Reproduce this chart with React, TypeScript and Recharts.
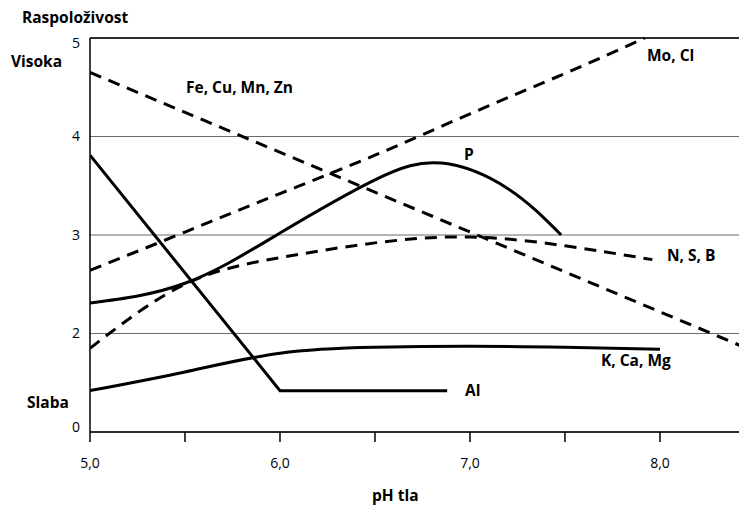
import { LineChart, Line, XAxis, YAxis, CartesianGrid, ReferenceLine } from 'recharts'

// pH values and availability (bottom of the plot = 1, shown as "0")
const feCuMnZn = [
  { ph: 5.0, v: 4.65 },
  { ph: 8.42, v: 1.88 },
]

const moCl = [
  { ph: 5.0, v: 2.64 },
  { ph: 5.5, v: 3.03 },
  { ph: 6.0, v: 3.42 },
  { ph: 6.5, v: 3.81 },
  { ph: 7.0, v: 4.23 },
  { ph: 7.5, v: 4.64 },
  { ph: 7.92, v: 5.0 },
]

const phosphorus = [
  { ph: 5.0, v: 2.31 },
  { ph: 5.5, v: 2.51 },
  { ph: 6.0, v: 3.02 },
  { ph: 6.5, v: 3.56 },
  { ph: 6.85, v: 3.73 },
  { ph: 7.2, v: 3.47 },
  { ph: 7.48, v: 3.0 },
]

const nsb = [
  { ph: 5.0, v: 1.85 },
  { ph: 5.5, v: 2.5 },
  { ph: 6.0, v: 2.77 },
  { ph: 6.5, v: 2.92 },
  { ph: 7.0, v: 2.98 },
  { ph: 7.5, v: 2.89 },
  { ph: 7.96, v: 2.75 },
]

const kCaMg = [
  { ph: 5.0, v: 1.42 },
  { ph: 5.5, v: 1.61 },
  { ph: 6.0, v: 1.8 },
  { ph: 6.5, v: 1.86 },
  { ph: 7.0, v: 1.87 },
  { ph: 7.5, v: 1.86 },
  { ph: 8.0, v: 1.84 },
]

const aluminium = [
  { ph: 5.0, v: 3.81 },
  { ph: 6.0, v: 1.42 },
  { ph: 6.88, v: 1.42 },
]

const xTicks = [5, 5.5, 6, 6.5, 7, 7.5, 8]
const yTicks = [1, 2, 3, 4, 5]
const yTickLabels: Record<number, string> = { 1: '0', 2: '2', 3: '3', 4: '4', 5: '5' }

const FONT = "'Open Sans', 'Noto Sans', sans-serif"

const YTick = (props: any) => {
  const { x, y, payload } = props
  const nudge = payload.value === 5 ? 5 : payload.value === 1 ? -5 : 0
  return (
    <text x={x} y={y + nudge} dy="0.35em" textAnchor="end" fontSize={14} fill="#000" fontFamily={FONT}>
      {yTickLabels[payload.value]}
    </text>
  )
}

const labels = [
  { text: 'Raspoloživost', x: 22, y: 23 },
  { text: 'Visoka', x: 11, y: 67 },
  { text: 'Slaba', x: 27, y: 408 },
  { text: 'pH tla', x: 372, y: 501 },
  { text: 'Fe, Cu, Mn, Zn', x: 186, y: 93 },
  { text: 'Mo, Cl', x: 647, y: 61 },
  { text: 'P', x: 464, y: 160 },
  { text: 'N, S, B', x: 667, y: 261 },
  { text: 'K, Ca, Mg', x: 601, y: 366 },
  { text: 'Al', x: 465, y: 396 },
]

const dashed = { stroke: '#000', strokeWidth: 3, strokeDasharray: '12 8', dot: false, isAnimationActive: false }
const solid = { stroke: '#000', strokeWidth: 3, dot: false, isAnimationActive: false }

export default function App() {
  return (
    <div style={{ position: 'absolute', left: 0, top: 0, width: 739, height: 509, background: '#fff' }}>
      <LineChart width={739} height={509} margin={{ top: 38, right: 0, bottom: 0, left: 0 }}>
        <CartesianGrid vertical={false} stroke="#6b6b6b" strokeWidth={1} />
        <XAxis
          type="number"
          dataKey="ph"
          domain={[5, 8.416]}
          allowDataOverflow
          ticks={xTicks}
          tickFormatter={(v: number) => (Number.isInteger(v) ? v.toFixed(1).replace('.', ',') : '')}
          tickSize={10}
          tickMargin={16}
          height={77}
          axisLine={{ stroke: '#000', strokeWidth: 1.5 }}
          tickLine={{ stroke: '#000', strokeWidth: 1.5 }}
          tick={{ fontSize: 14, fill: '#000', fontFamily: FONT }}
        />
        <YAxis
          type="number"
          domain={[1, 5]}
          ticks={yTicks}
          width={90}
          tickSize={0}
          tickMargin={10}
          tickLine={false}
          axisLine={{ stroke: '#000', strokeWidth: 1.5 }}
          tick={<YTick />}
        />
        <ReferenceLine y={5} stroke="#000" strokeWidth={1.5} />
        <Line data={feCuMnZn} dataKey="v" type="linear" {...dashed} />
        <Line data={moCl} dataKey="v" type="natural" {...dashed} />
        <Line data={nsb} dataKey="v" type="natural" {...dashed} />
        <Line data={phosphorus} dataKey="v" type="natural" {...solid} />
        <Line data={kCaMg} dataKey="v" type="natural" {...solid} />
        <Line data={aluminium} dataKey="v" type="linear" {...solid} />
      </LineChart>
      <svg width={739} height={509} style={{ position: 'absolute', left: 0, top: 0, pointerEvents: 'none' }}>
        {labels.map((l) => (
          <text key={l.text} x={l.x} y={l.y} fontSize={15.5} fontWeight="bold" fontFamily={FONT} fill="#000">
            {l.text}
          </text>
        ))}
      </svg>
    </div>
  )
}
